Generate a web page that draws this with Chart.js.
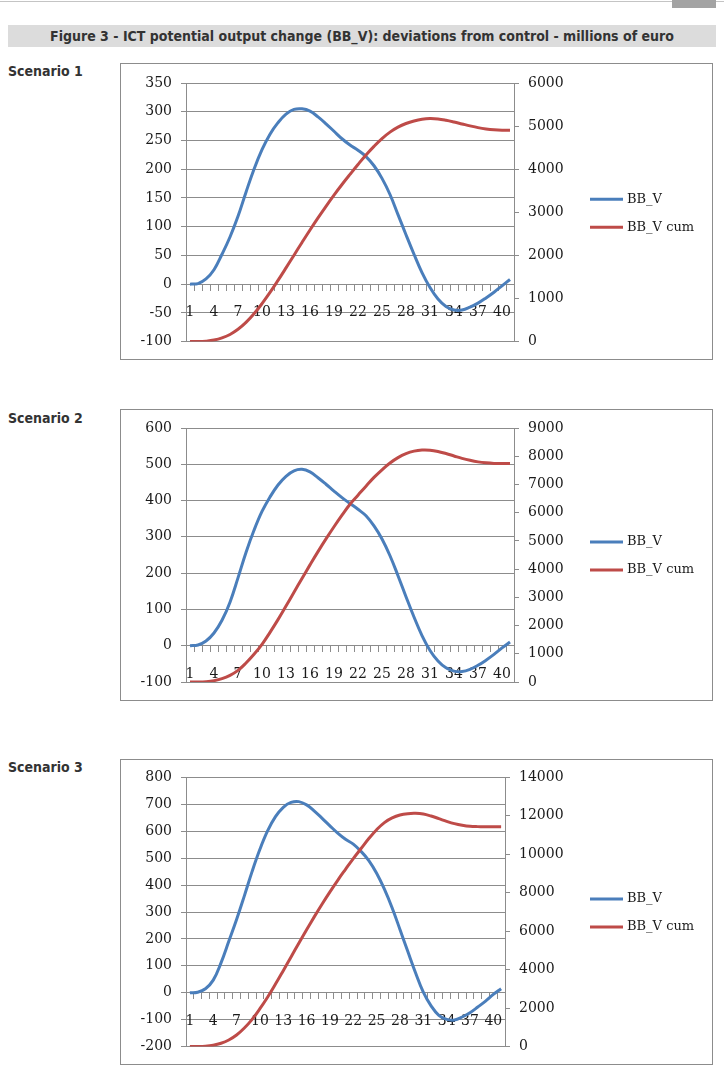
<!DOCTYPE html>
<html>
<head>
<meta charset="utf-8">
<script src="https://cdn.jsdelivr.net/npm/chart.js@4.4.1/dist/chart.umd.min.js"></script>
<style>
  body { margin: 0; background: #fff; width: 724px; height: 1073px; position: relative; overflow: hidden; }
  #topline { position: absolute; left: 0; top: 1px; width: 724px; height: 1px; background: #c4c4c4; }
  #tab { position: absolute; left: 672px; top: 0; width: 44px; height: 8px; background: #a3a3a3; }
  #title { position: absolute; left: 8px; top: 25px; width: 708px; height: 22px; line-height: 22px; background: #dcdcdc;
    text-align: center; font-family: "Liberation Sans Narrow", "DejaVu Sans Condensed", sans-serif; font-weight: bold;
    font-size: 14px; color: #333; }
  .scen { position: absolute; left: 8px; font-family: "Liberation Sans Narrow", "DejaVu Sans Condensed", sans-serif;
    font-weight: bold; font-size: 14px; color: #333; }
  .box { position: absolute; left: 120px; width: 593px; box-sizing: border-box; border: 1px solid #8c8c8c; background: #fff; }
  .box canvas { display: block; }
</style>
</head>
<body>
<div id="topline"></div>
<div id="tab"></div>
<div id="title">Figure 3 - ICT potential output change (BB_V): deviations from control - millions of euro</div>

<div class="scen" style="top:63px">Scenario 1</div>
<div class="box" style="top:63px;height:297px"><canvas id="c1" width="591" height="295"></canvas></div>

<div class="scen" style="top:410px">Scenario 2</div>
<div class="box" style="top:409px;height:292px"><canvas id="c2" width="591" height="290"></canvas></div>

<div class="scen" style="top:759px">Scenario 3</div>
<div class="box" style="top:759px;height:306px"><canvas id="c3" width="591" height="304"></canvas></div>

<script>
// periods 1..41, labels shown every third period
var periods = [1,2,3,4,5,6,7,8,9,10,11,12,13,14,15,16,17,18,19,20,21,22,23,24,25,26,27,28,29,30,31,32,33,34,35,36,37,38,39,40,41];
var shownLabels = ["1","4","7","10","13","16","19","22","25","28","31","34","37","40"];
var seriesNames = ["BB_V", "BB_V cum"];

// Scenario 1
var s1BBV = [0, 1, 9, 25, 52, 82, 118, 160, 200, 234, 261, 281, 296, 304, 305, 301, 291, 279, 266, 253, 242,
  233, 222, 206, 184, 156, 121, 86, 52, 20, -6, -26, -39, -45, -45, -40, -33, -24, -14, -3, 8];
var s1Cum = [0, 0, 10, 35, 85, 165, 285, 445, 645, 880, 1140, 1420, 1710, 2005, 2300, 2590, 2870, 3140, 3400, 3645, 3880,
  4110, 4330, 4530, 4710, 4860, 4975, 5060, 5120, 5160, 5175, 5165, 5135, 5095, 5050, 5005, 4965, 4935, 4915, 4905, 4905];
var s1Left = [-100, 350, 50];
var s1Right = [0, 6000, 1000];

// Scenario 2
var s2BBV = [0, 2, 13, 35, 70, 120, 187, 257, 318, 370, 410, 443, 467, 482, 486, 479, 463, 445, 426, 408, 392,
  376, 358, 330, 294, 248, 193, 135, 79, 28, -13, -42, -61, -70, -71, -65, -54, -40, -24, -6, 10];
var s2Cum = [0, 0, 12, 47, 118, 236, 413, 673, 980, 1333, 1760, 2210, 2690, 3180, 3670, 4150, 4620, 5070, 5500, 5910, 6300,
  6620, 6940, 7250, 7520, 7760, 7950, 8090, 8180, 8220, 8215, 8170, 8095, 8010, 7925, 7855, 7800, 7765, 7745, 7740, 7745];
var s2Left = [-100, 600, 100];
var s2Right = [0, 9000, 1000];

// Scenario 3
var s3BBV = [0, 2, 15, 47, 111, 191, 272, 360, 451, 533, 602, 654, 689, 707, 710, 698, 675, 648, 620, 593, 570,
  552, 525, 491, 444, 385, 315, 235, 154, 74, 2, -49, -84, -99, -101, -90, -74, -53, -31, -6, 15];
var s3Cum = [0, 0, 17, 69, 173, 345, 605, 968, 1417, 1970, 2580, 3250, 3950, 4660, 5380, 6080, 6760, 7420, 8050, 8650, 9220,
  9780, 10300, 10820, 11280, 11650, 11890, 12045, 12115, 12130, 12095, 11990, 11855, 11715, 11595, 11510, 11455, 11440, 11440, 11440, 11440];
var s3Left = [-200, 800, 100];
var s3Right = [0, 14000, 2000];

var blue = "#4a7ebb";
var red = "#be4b48";
var gridCol = "#8c8c8c";
var tickFont = { family: "DejaVu Serif", size: 14 };

function plain(v) { return String(v); }

// Excel-style legend on the right, centred on the plot height
var sideLegend = {
  id: "sideLegend",
  afterDraw: function(chart) {
    var ctx = chart.ctx, a = chart.chartArea;
    var mid = (a.top + a.bottom) / 2;
    chart.data.datasets.forEach(function(ds, i) {
      var y = mid - 13 + i * 28;
      ctx.save();
      ctx.strokeStyle = ds.borderColor;
      ctx.lineWidth = 3;
      ctx.beginPath();
      ctx.moveTo(469, y);
      ctx.lineTo(502, y);
      ctx.stroke();
      ctx.fillStyle = "#1a1a1a";
      ctx.font = "13px 'DejaVu Serif'";
      ctx.textBaseline = "middle";
      ctx.fillText(ds.label, 506, y);
      ctx.restore();
    });
  }
};

function makeChart(id, bbv, cum, left, right, y2Width, pad) {
  new Chart(document.getElementById(id), {
    type: "line",
    data: {
      labels: periods,
      datasets: [{
        label: seriesNames[0], data: bbv, yAxisID: "y",
        borderColor: blue, backgroundColor: blue, borderWidth: 3,
        pointRadius: 0, tension: 0.4, order: 1
      }, {
        label: seriesNames[1], data: cum, yAxisID: "y2",
        borderColor: red, backgroundColor: red, borderWidth: 3,
        pointRadius: 0, tension: 0.4, order: 0
      }]
    },
    options: {
      responsive: false,
      animation: false,
      layout: { padding: { left: 0, right: 134, top: pad[0], bottom: pad[1] } },
      plugins: {
        tooltip: { enabled: false },
        legend: { display: false }
      },
      scales: {
        x: {
          position: { y: 0 },
          offset: true,
          grid: { offset: true, drawOnChartArea: false, tickLength: 6, color: gridCol },
          border: { color: gridCol },
          ticks: {
            autoSkip: false, maxRotation: 0, padding: 14, color: "#1a1a1a", font: tickFont,
            callback: function(v, i) {
              var l = String(periods[i]);
              return shownLabels.indexOf(l) >= 0 ? l : "";
            }
          }
        },
        y: {
          position: "left", min: left[0], max: left[1],
          ticks: { stepSize: left[2], padding: 9, color: "#1a1a1a", font: tickFont, callback: plain },
          grid: { color: gridCol, tickLength: 5 },
          border: { color: gridCol },
          afterFit: function(s) { s.width = 65; }
        },
        y2: {
          position: "right", min: right[0], max: right[1],
          ticks: { stepSize: right[2], padding: 9, color: "#1a1a1a", font: tickFont, callback: plain },
          grid: { drawOnChartArea: false, color: gridCol, tickLength: 5 },
          border: { color: gridCol },
          afterFit: function(s) { s.width = y2Width; }
        }
      }
    },
    plugins: [sideLegend]
  });
}

makeChart("c1", s1BBV, s1Cum, s1Left, s1Right, 64, [19, 17]);
makeChart("c2", s2BBV, s2Cum, s2Left, s2Right, 64, [18, 18]);
makeChart("c3", s3BBV, s3Cum, s3Left, s3Right, 73, [17, 17]);
</script>
</body>
</html>
